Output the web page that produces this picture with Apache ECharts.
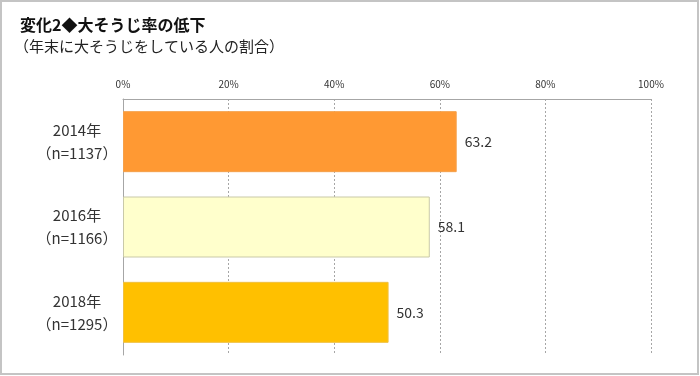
<!DOCTYPE html>
<html>
<head>
<meta charset="utf-8">
<script src="https://cdn.jsdelivr.net/npm/echarts@6/dist/echarts.min.js"></script>
<style>
html,body{margin:0;padding:0;background:#fff;}
#chart{width:700px;height:376px;}
</style>
</head>
<body>
<div id="chart"></div>
<script>
// 大そうじ率の推移
const years = ["2014年", "2016年", "2018年"];
const sampleSizes = [1137, 1166, 1295];
const rates = [63.2, 58.1, 50.3];
const xTicks = [0, 20, 40, 60, 80, 100];

const barColors = ["#FF9933", "#FFFFCC", "#FFC000"];
const barBorders = ["#F5A04A", "#C9C9A8", "#F0C040"];

const font = '"Noto Sans CJK JP", "Noto Sans", sans-serif';

const chart = echarts.init(document.getElementById("chart"));

const categories = years.map((y, i) => y + "\n（n=" + sampleSizes[i] + "）");

const option = {
  backgroundColor: "#fff",
  textStyle: { fontFamily: font },
  graphic: [
    {
      type: "rect",
      shape: { x: 1, y: 1, width: 697, height: 373 },
      style: { fill: "none", stroke: "#C4C4C4", lineWidth: 2 },
      silent: true
    },
    {
      type: "text",
      left: 20,
      top: 17,
      style: {
        text: "変化2◆大そうじ率の低下",
        font: "bold 16px " + font,
        fill: "#111"
      }
    },
    {
      type: "text",
      left: 14,
      top: 39,
      style: {
        text: "（年末に大そうじをしている人の割合）",
        font: "15px " + font,
        fill: "#222"
      }
    }
  ],
  grid: { left: 123, right: 49, top: 99, bottom: 21 },
  xAxis: {
    type: "value",
    position: "top",
    min: xTicks[0],
    max: xTicks[xTicks.length - 1],
    interval: 20,
    axisLine: { show: true, lineStyle: { color: "#A6A6A6", width: 1 } },
    axisTick: { show: false },
    axisLabel: {
      formatter: "{value}%",
      fontSize: 10,
      color: "#333",
      margin: 10
    },
    splitLine: {
      show: true,
      lineStyle: { color: "#A6A6A6", type: [2, 2], width: 1 }
    }
  },
  yAxis: {
    type: "category",
    inverse: true,
    data: categories,
    axisLine: { show: true, lineStyle: { color: "#A6A6A6", width: 1 } },
    axisTick: { show: false },
    axisLabel: {
      align: "center",
      margin: 46,
      fontSize: 15,
      lineHeight: 23,
      color: "#333"
    }
  },
  series: [
    {
      type: "bar",
      barWidth: 61,
      data: rates.map((v, i) => ({
        value: v,
        itemStyle: {
          color: barColors[i],
          borderColor: barBorders[i],
          borderWidth: 1
        }
      })),
      label: {
        show: true,
        position: "right",
        distance: 8,
        fontSize: 14,
        color: "#333",
        formatter: p => p.value.toFixed(1)
      }
    }
  ]
};

chart.setOption(option);
</script>
</body>
</html>
